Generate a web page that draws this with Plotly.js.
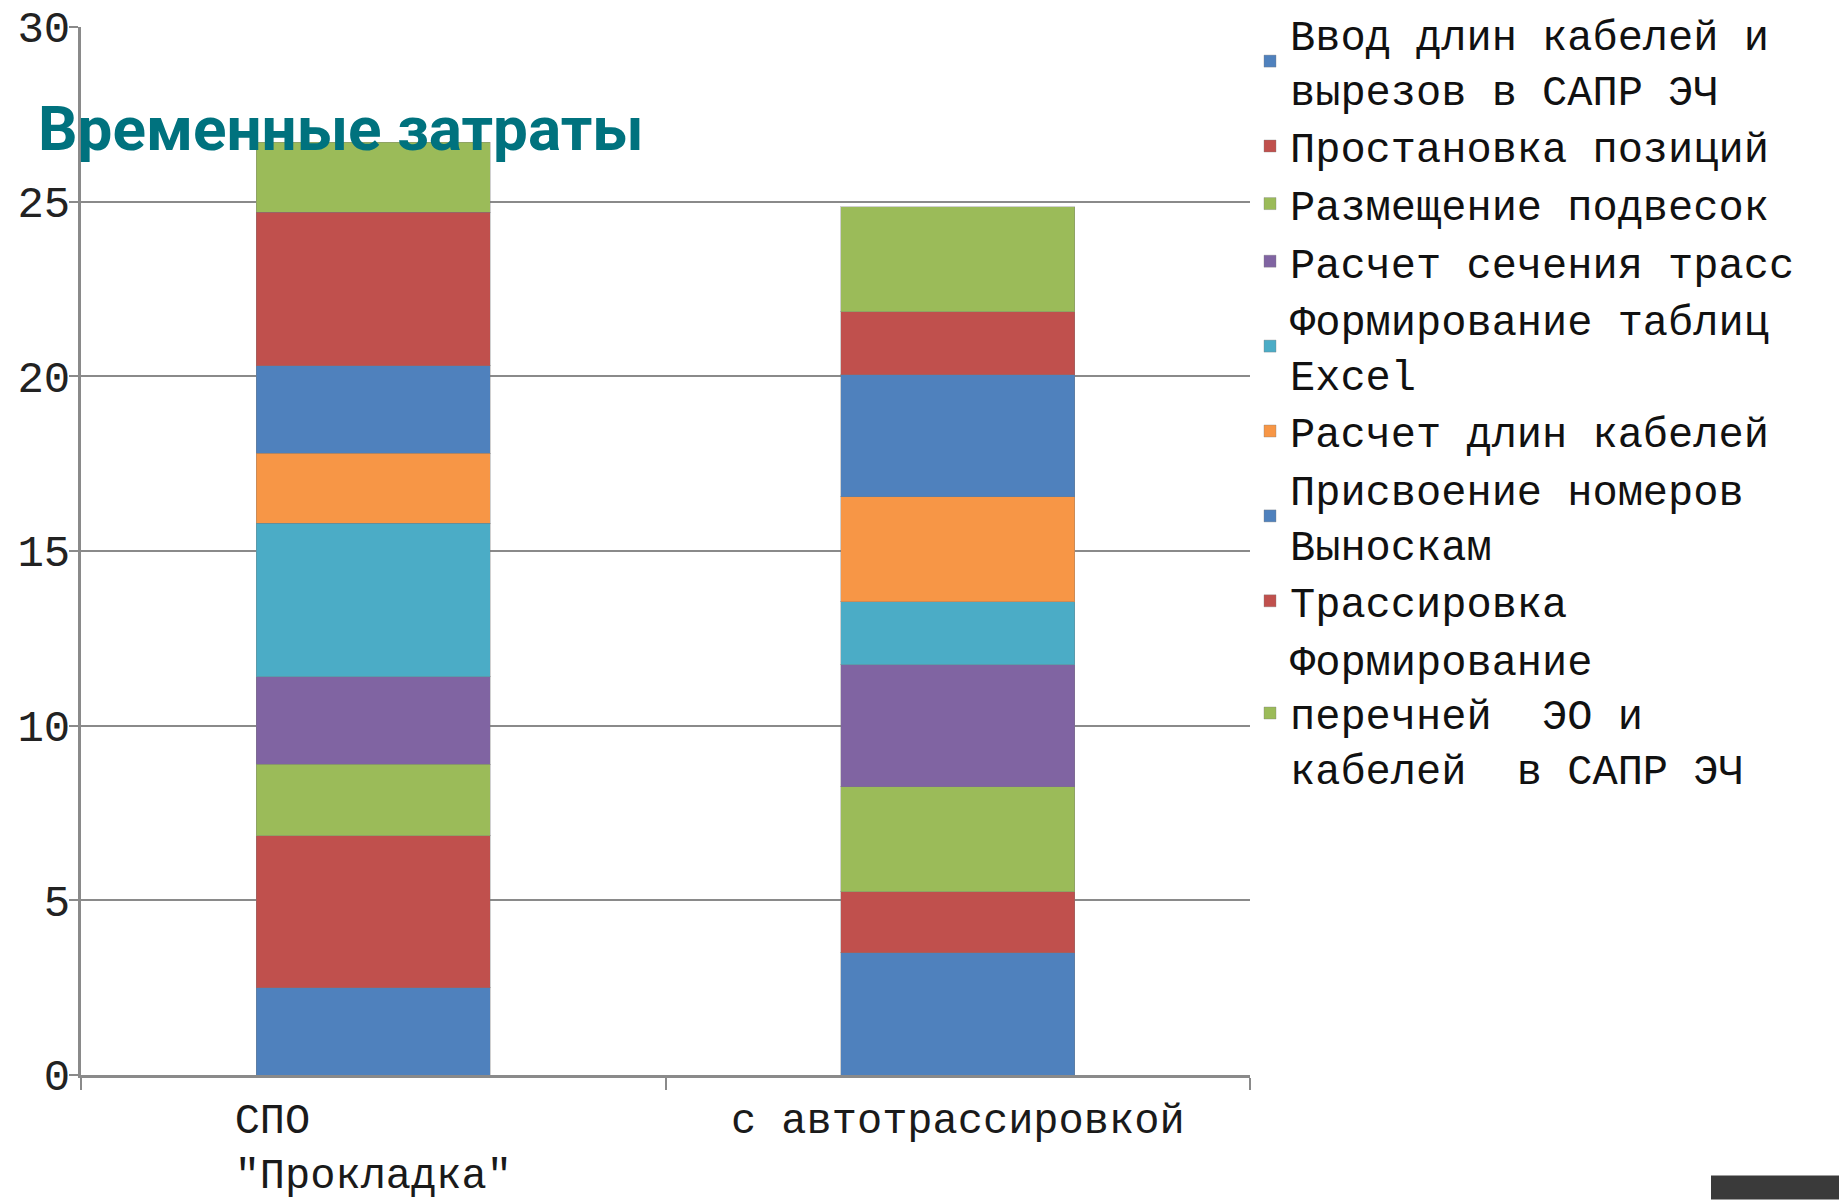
<!DOCTYPE html>
<html>
<head>
<meta charset="utf-8">
<script src="https://cdn.plot.ly/plotly-3.0.1.min.js"></script>
<style>
html, body { margin: 0; padding: 0; background: #ffffff; }
#chart { width: 1839px; height: 1200px; }
</style>
</head>
<body>
<div id="chart"></div>
<script>
// ---- data ----
const categories = ['СПО "Прокладка"', 'с автотрассировкой'];
const tickLabels = ['СПО\u00a0\u00a0\u00a0\u00a0\u00a0\u00a0\u00a0\u00a0<br>"Прокладка"', 'с автотрассировкой'];
const seriesNames = [
  'Ввод длин кабелей и<br>вырезов в САПР ЭЧ',
  'Простановка позиций',
  'Размещение подвесок',
  'Расчет сечения трасс',
  'Формирование таблиц<br>Excel',
  'Расчет длин кабелей',
  'Присвоение номеров<br>Выноскам',
  'Трассировка',
  'Формирование<br>перечней\u00a0 ЭО и<br>кабелей\u00a0 в САПР ЭЧ'
];
const spoValues  = [2.5, 4.35, 2.05, 2.5, 4.4, 2.0, 2.5, 4.4, 2.0];
const autoValues = [3.5, 1.75, 3.0, 3.5, 1.8, 3.0, 3.5, 1.8, 3.0];
const yTicks = [0, 5, 10, 15, 20, 25, 30];

// ---- styles ----
const seriesColors = ['#4F81BD', '#C0504D', '#9BBB59', '#8064A2', '#4BACC6', '#F79646', '#4F81BD', '#C0504D', '#9BBB59'];
const FONT = '"Liberation Mono", "Courier New", monospace';

const traces = seriesNames.map((name, i) => ({
  type: 'bar',
  name: name,
  x: categories,
  y: [spoValues[i], autoValues[i]],
  marker: { color: seriesColors[i], line: { color: 'rgba(120,120,120,0.35)', width: 1 } },
  hoverinfo: 'name+y'
}));

const W = 1839, H = 1200;
const L = 81, R = 1250, T = 27, B = 1075.5;

const layout = {
  width: W, height: H,
  paper_bgcolor: '#ffffff',
  plot_bgcolor: '#ffffff',
  barmode: 'stack',
  bargap: 0.6,
  margin: { l: L, r: W - R, t: T, b: H - B, pad: 0, autoexpand: false },
  font: { family: FONT, size: 42, color: '#1a1a1a' },
  title: {
    text: '<b>Временные затраты</b>',
    font: { family: 'Roboto, "Liberation Sans", Arial, sans-serif', size: 62, color: '#00727E' },
    x: 38 / W, xref: 'container', xanchor: 'left',
    y: 1 - 128 / H, yref: 'container', yanchor: 'middle'
  },
  xaxis: {
    type: 'category',
    tickmode: 'array',
    tickvals: categories,
    ticktext: tickLabels,
    tickson: 'boundaries',
    ticks: 'outside',
    ticklen: 12,
    tickwidth: 2,
    tickcolor: '#8a8a8a',
    showline: true,
    linecolor: '#8a8a8a',
    linewidth: 3,
    showgrid: false,
    zeroline: false,
    ticklabelstandoff: 5,
    tickfont: { family: FONT, size: 42, color: '#1a1a1a' },
    automargin: false
  },
  yaxis: {
    range: [0, 30],
    tickmode: 'array',
    tickvals: yTicks,
    ticks: 'outside',
    ticklen: 9,
    tickwidth: 2,
    tickcolor: '#8a8a8a',
    showline: true,
    linecolor: '#8a8a8a',
    linewidth: 3,
    showgrid: true,
    gridcolor: '#8a8a8a',
    gridwidth: 2,
    zeroline: false,
    ticklabelstandoff: -10,
    tickfont: { family: FONT, size: 44, color: '#222222' },
    automargin: false
  },
  legend: {
    traceorder: 'normal',
    x: 1250 / W, xref: 'container', xanchor: 'left',
    y: 1, yref: 'container', yanchor: 'top',
    maxheight: 1,
    font: { family: FONT, size: 42, color: '#111111' },
    bgcolor: 'rgba(0,0,0,0)',
    itemwidth: 30,
    valign: 'middle',
    tracegroupgap: 0
  },
  shapes: [{
    type: 'rect', xref: 'paper', yref: 'paper',
    x0: (1711 - L) / (R - L), x1: (1839 - L) / (R - L),
    y0: (B - 1200) / (B - T), y1: (B - 1176) / (B - T),
    fillcolor: '#3a3a3a', line: { width: 0 }, layer: 'above'
  }],
  showlegend: true
};

Plotly.newPlot('chart', traces, layout, { displayModeBar: false, staticPlot: true });
</script>
</body>
</html>
